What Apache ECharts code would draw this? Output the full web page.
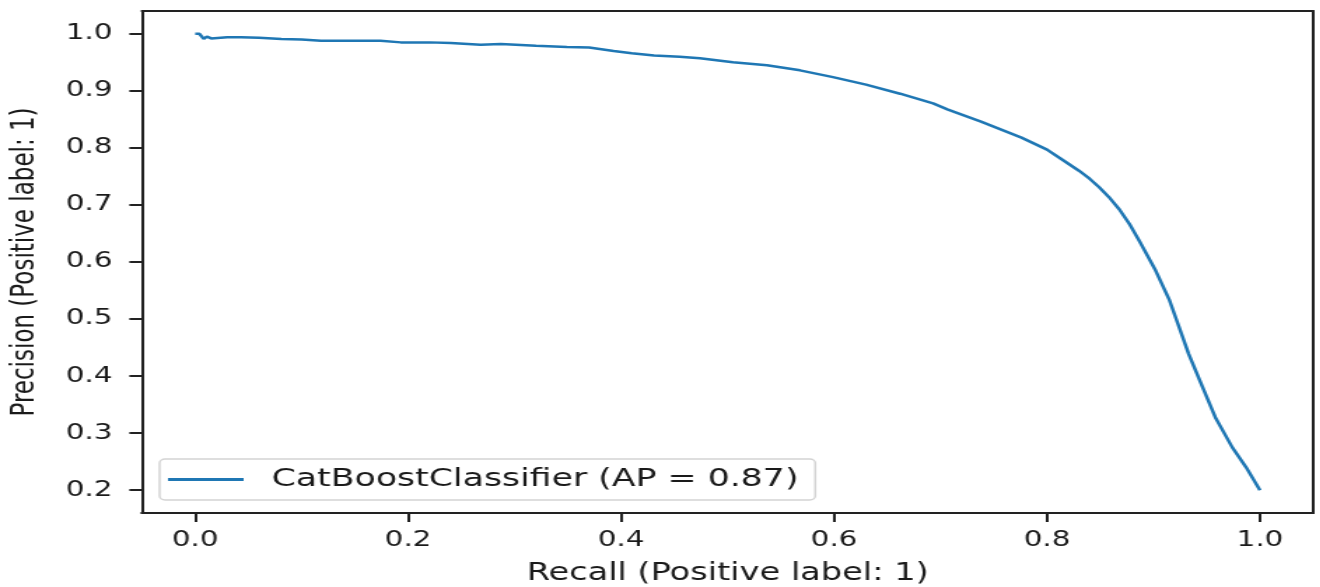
<!DOCTYPE html>
<html>
<head>
<meta charset="utf-8">
<script src="https://cdn.jsdelivr.net/npm/echarts@6/dist/echarts.min.js"></script>
<style>
  html, body { margin: 0; padding: 0; background: #fff; overflow: hidden; }
  /* the figure is drawn on a narrower canvas and widened 1.4x horizontally */
  #chart { width: 942.857px; height: 587px; transform: scaleX(1.4); transform-origin: 0 0; }
</style>
</head>
<body>
<div id="chart"></div>
<script>
// Precision-recall curve of the CatBoost classifier
const recall = [0.000, 0.004, 0.008, 0.011, 0.015, 0.030, 0.043, 0.060, 0.081, 0.100,
                0.118, 0.150, 0.174, 0.193, 0.220, 0.240, 0.268, 0.287, 0.320, 0.349,
                0.370, 0.393, 0.410, 0.431, 0.455, 0.474, 0.505, 0.537, 0.568, 0.599,
                0.630, 0.662, 0.693, 0.707, 0.738, 0.776, 0.800, 0.813, 0.830, 0.840,
                0.849, 0.858, 0.868, 0.878, 0.887, 0.902, 0.915, 0.924, 0.933, 0.946,
                0.958, 0.974, 0.987, 1.000];
const precision = [1.000, 1.000, 0.991, 0.995, 0.992, 0.994, 0.994, 0.993, 0.991, 0.990,
                   0.988, 0.988, 0.988, 0.985, 0.985, 0.984, 0.981, 0.982, 0.979, 0.977,
                   0.976, 0.970, 0.966, 0.962, 0.960, 0.957, 0.950, 0.945, 0.936, 0.924,
                   0.911, 0.895, 0.878, 0.867, 0.846, 0.818, 0.797, 0.781, 0.760, 0.746,
                   0.731, 0.714, 0.692, 0.665, 0.636, 0.585, 0.533, 0.486, 0.439, 0.381,
                   0.328, 0.275, 0.240, 0.200];
const xTicks = [0.0, 0.2, 0.4, 0.6, 0.8, 1.0];
const yTicks = [0.2, 0.3, 0.4, 0.5, 0.6, 0.7, 0.8, 0.9, 1.0];
const seriesName = 'CatBoostClassifier (AP = 0.87)';
const xName = 'Recall (Positive label: 1)';
const yName = 'Precision (Positive label: 1)';

const points = recall.map((r, i) => [r, precision[i]]);
const FONT = '"DejaVu Sans", sans-serif';
const INK = '#1a1a1a';
const LINE = { color: '#222', width: 2 };
const X_RANGE = { min: -0.05, max: 1.05 };
const Y_RANGE = { min: 0.16, max: 1.04 };

// top and right spines: bare axis lines without ticks or labels
const bareSpine = (position, range) => ({
  type: 'value', position, ...range,
  axisLine: { show: true, onZero: false, lineStyle: LINE },
  axisTick: { show: false }, axisLabel: { show: false }, splitLine: { show: false }
});

// outward tick marks, kept on their own axis so label layout cannot hide them
const tickAxis = (position, range, values) => ({
  type: 'value', position, offset: 0.001, ...range,
  axisLine: { show: true, onZero: false, lineStyle: LINE },
  axisTick: { show: true, inside: false, customValues: values, length: 9, lineStyle: LINE },
  axisLabel: { show: false }, splitLine: { show: false }
});

const chart = echarts.init(document.getElementById('chart'), null, { renderer: 'canvas' });
chart.setOption({
  animation: false,
  backgroundColor: '#fff',
  grid: {
    left: 101.4, right: 5, top: 11, bottom: 74,
    outerBoundsMode: 'none', containLabel: false, show: false
  },
  xAxis: [{
    type: 'value', position: 'bottom', offset: 0.001, ...X_RANGE,
    name: xName, nameLocation: 'middle', nameGap: 49,
    nameTextStyle: { fontFamily: FONT, fontSize: 24, color: INK },
    axisLine: { show: true, onZero: false, lineStyle: LINE },
    splitLine: { show: false },
    axisTick: { show: true, inside: false, customValues: xTicks, length: 9, lineStyle: LINE },
    axisLabel: {
      show: true, customValues: xTicks, margin: 17,
      fontFamily: FONT, fontSize: 21, color: INK,
      formatter: v => v.toFixed(1)
    }
  }, bareSpine('top', X_RANGE), tickAxis('bottom', X_RANGE, xTicks)],
  yAxis: [{
    type: 'value', position: 'left', offset: 0.001, ...Y_RANGE,
    name: yName, nameLocation: 'middle', nameGap: 72, nameRotate: 90,
    nameTextStyle: { fontFamily: FONT, fontSize: 23, color: INK },
    axisLine: { show: true, onZero: false, lineStyle: LINE },
    splitLine: { show: false },
    axisTick: { show: true, inside: false, customValues: yTicks, length: 9, lineStyle: LINE },
    axisLabel: {
      show: true, customValues: yTicks, margin: 21,
      fontFamily: FONT, fontSize: 21, color: INK,
      formatter: v => v.toFixed(1)
    }
  }, bareSpine('right', Y_RANGE), tickAxis('left', Y_RANGE, yTicks)],
  legend: {
    left: 114, top: 459,
    data: [seriesName],
    icon: 'rect', itemWidth: 54, itemHeight: 3,
    padding: [8, 12, 8, 6],
    backgroundColor: 'rgba(255,255,255,0.8)',
    borderColor: '#d4d4d4', borderWidth: 1.5, borderRadius: 4,
    textStyle: { fontFamily: FONT, fontSize: 24.8, color: INK, padding: [0, 0, 0, 15] }
  },
  series: [{
    name: seriesName,
    type: 'line',
    xAxisIndex: 0, yAxisIndex: 0,
    data: points,
    symbol: 'none',
    color: '#1f77b4',
    lineStyle: { color: '#1f77b4', width: 2.5 }
  }]
});
</script>
</body>
</html>
